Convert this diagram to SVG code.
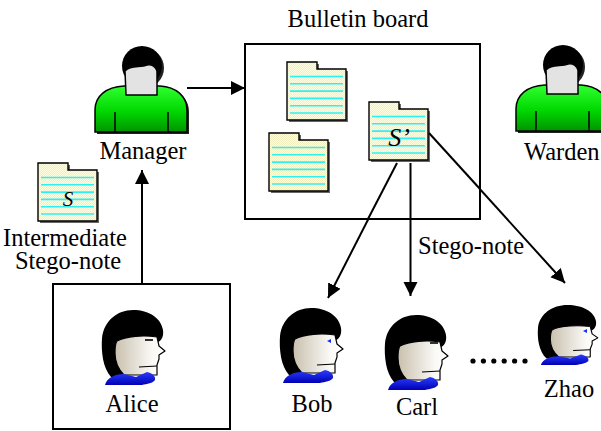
<svg xmlns="http://www.w3.org/2000/svg" xmlns:xlink="http://www.w3.org/1999/xlink" width="601" height="431" viewBox="0 0 601 431">
  <style>
    .lbl { font-family: "Liberation Serif", "Times New Roman", serif; font-size: 24.5px; fill: #000; }
    .sym { font-family: "Liberation Serif", "Times New Roman", serif; font-style: italic; fill: #000; }
    .conn { stroke: #000; stroke-width: 2; fill: none; }
    .box { fill: #fff; stroke: #000; stroke-width: 2; }
    .doc { fill: url(#paper); stroke: #000; stroke-width: 1.4; }
    .docshadow { fill: #666; }
    .rule { stroke: #2ff0f0; stroke-width: 1.6; }
    .hair { fill: #000; }
    .face { fill: url(#skin); stroke: #000; stroke-width: 1.2; stroke-linejoin: round; }
    .collar { fill: url(#shirt); }
    .ink { stroke: #000; stroke-width: 1.2; fill: none; }
    .body { fill: url(#green); stroke: #000; stroke-width: 1.5; }
    .shade { fill: #222; }
  </style>
  <defs>
    <pattern id="paper" width="2" height="2" patternUnits="userSpaceOnUse">
      <rect width="2" height="2" fill="#fffde0"/>
      <rect width="1" height="1" fill="#f2eebf"/>
      <rect x="1" y="1" width="1" height="1" fill="#f2eebf"/>
    </pattern>
    <linearGradient id="green" x1="0" y1="0" x2="0" y2="1">
      <stop offset="0" stop-color="#30ff30"/>
      <stop offset="0.55" stop-color="#00d800"/>
      <stop offset="1" stop-color="#009400"/>
    </linearGradient>
    <linearGradient id="skin" x1="0" y1="0" x2="1" y2="0">
      <stop offset="0" stop-color="#c9c0ae"/>
      <stop offset="0.75" stop-color="#fbfaf7"/>
      <stop offset="1" stop-color="#ffffff"/>
    </linearGradient>
    <linearGradient id="shirt" x1="0" y1="0" x2="0" y2="1">
      <stop offset="0" stop-color="#2a3cff"/>
      <stop offset="1" stop-color="#0000b4"/>
    </linearGradient>
    <marker id="arrow" markerUnits="userSpaceOnUse" markerWidth="15" markerHeight="15" refX="14" refY="7" orient="auto">
      <path d="M0,0 L14,7 L0,14 Z" fill="#000"/>
    </marker>

    <!-- note sheet with folder tab and ruled lines -->
    <g id="note">
      <path class="docshadow" d="M2,2 H32 V9 H61 V60 H2 Z"/>
      <path class="doc" d="M0,0 H30 V7 H59 V58 H0 Z"/>
      <g class="rule">
        <line x1="3" y1="14.5" x2="56" y2="14.5"/>
        <line x1="3" y1="21.8" x2="56" y2="21.8"/>
        <line x1="3" y1="29.1" x2="56" y2="29.1"/>
        <line x1="3" y1="36.4" x2="56" y2="36.4"/>
        <line x1="3" y1="43.7" x2="56" y2="43.7"/>
        <line x1="3" y1="51" x2="56" y2="51"/>
      </g>
    </g>

    <!-- profile head, facing right -->
    <g id="head">
      <path class="hair" d="M9,67 C1,58 -1,42 0,28 C2,11 15,0 31,0 C47,0 59,8 61,20 C62,27 59,31 56,32 L40,42 L20,67 Z"/>
      <path class="face" d="M15,31 C24,26 42,25 55,27 L57,36 L63,41 L57,45 L57,49 L55,55 L55,65 L22,65 C17,60 13,52 13,43 C13,38 13,34 15,31 Z"/>
      <path class="ink" d="M55,56 L37,57"/>
      <path class="collar" d="M3,75 C5,68 12,64 22,64 L34,67 L45,62 C50,63 54,66 53,70 C51,73 45,74 40,75 Z"/>
    </g>

    <!-- user icon with green shirt -->
    <g id="user">
      <circle class="shade" cx="144" cy="68" r="20"/>
      <path class="shade" d="M97,134 L97,112 C97,98 108,89 126,88 L162,88 C178,89 189,98 189,112 L189,134 Z"/>
      <circle class="hair" cx="142" cy="66" r="20"/>
      <path class="body" d="M95,132 L95,110 C95,96 106,87 124,86 L160,86 C176,87 187,96 187,110 L187,132 Z"/>
      <path d="M115,112 V132 M168,112 V132" stroke="#000" stroke-width="1.5"/>
      <path d="M125,71 C131,64 140,68 147,65 C152,64 156,67 157,71 L157,95 L126,95 Z" fill="#e3e3e3" stroke="#000" stroke-width="1.5"/>
    </g>
  </defs>

  <rect width="601" height="431" fill="#fff"/>

  <!-- connectors -->
  <g id="connectors">
    <line class="conn" x1="187" y1="88" x2="245" y2="88" marker-end="url(#arrow)"/>
    <line class="conn" x1="142" y1="284" x2="142" y2="170" marker-end="url(#arrow)"/>
    <line class="conn" x1="397" y1="163" x2="328" y2="298" marker-end="url(#arrow)"/>
    <line class="conn" x1="410.5" y1="163" x2="410.5" y2="296" marker-end="url(#arrow)"/>
    <line class="conn" x1="429" y1="133" x2="565" y2="283" marker-end="url(#arrow)"/>
  </g>

  <!-- bulletin board -->
  <g id="bulletin-board">
    <text class="lbl" x="358" y="27" text-anchor="middle">Bulletin board</text>
    <rect class="box" x="245" y="44" width="235" height="175"/>
    <use xlink:href="#note" x="287" y="62"/>
    <use xlink:href="#note" x="269" y="133"/>
    <g id="stego-note">
      <use xlink:href="#note" x="369" y="102"/>
      <text class="sym" x="399" y="146" font-size="26" text-anchor="middle">S’</text>
    </g>
  </g>

  <!-- connector segments inside the board, drawn over the board fill -->
  <g id="connectors-over">
    <line class="conn" x1="397" y1="163" x2="368" y2="219"/>
    <line class="conn" x1="410.5" y1="163" x2="410.5" y2="219"/>
    <line class="conn" x1="429" y1="133" x2="480" y2="189"/>
  </g>

  <g id="manager">
    <use xlink:href="#user"/>
    <text class="lbl" x="143" y="159" text-anchor="middle">Manager</text>
  </g>

  <g id="warden">
    <use xlink:href="#user" transform="translate(421,-1)"/>
    <text class="lbl" x="524" y="160">Warden</text>
  </g>

  <g id="intermediate-note">
    <use xlink:href="#note" x="38" y="163"/>
    <text class="sym" x="68" y="206" font-size="21" text-anchor="middle">S</text>
    <text class="lbl" text-anchor="middle">
      <tspan x="68" y="246">Intermediate</tspan>
      <tspan x="68" y="269">Stego-note</tspan>
    </text>
  </g>

  <g id="stego-label">
    <text class="lbl" x="418" y="254">Stego-note</text>
  </g>

  <g id="alice">
    <rect class="box" x="53" y="284" width="177" height="145"/>
    <use xlink:href="#head" transform="translate(102,310)"/>
    <line x1="145" y1="340" x2="153" y2="340" stroke="#000" stroke-width="1.6"/>
    <text class="lbl" x="132" y="412" text-anchor="middle">Alice</text>
  </g>

  <g id="bob">
    <use xlink:href="#head" transform="translate(280,308)"/>
    <path d="M327,341 L331,339 L331,343 Z" fill="#1030ff"/>
    <text class="lbl" x="312" y="412" text-anchor="middle">Bob</text>
  </g>

  <g id="carl">
    <use xlink:href="#head" transform="translate(385,315)"/>
    <line x1="430" y1="343" x2="438" y2="343" stroke="#000" stroke-width="1.6"/>
    <text class="lbl" x="417" y="415" text-anchor="middle">Carl</text>
  </g>

  <g id="dots">
    <circle cx="473" cy="361" r="2.6"/>
    <circle cx="483.4" cy="361" r="2.6"/>
    <circle cx="493.8" cy="361" r="2.6"/>
    <circle cx="504.2" cy="361" r="2.6"/>
    <circle cx="514.6" cy="361" r="2.6"/>
    <circle cx="525" cy="361" r="2.6"/>
  </g>

  <g id="zhao">
    <use xlink:href="#head" transform="translate(538,305) scale(0.95,0.8)"/>
    <path d="M583,331 L587,329 L587,333 Z" fill="#1030ff"/>
    <text class="lbl" x="569" y="397" text-anchor="middle">Zhao</text>
  </g>
</svg>
